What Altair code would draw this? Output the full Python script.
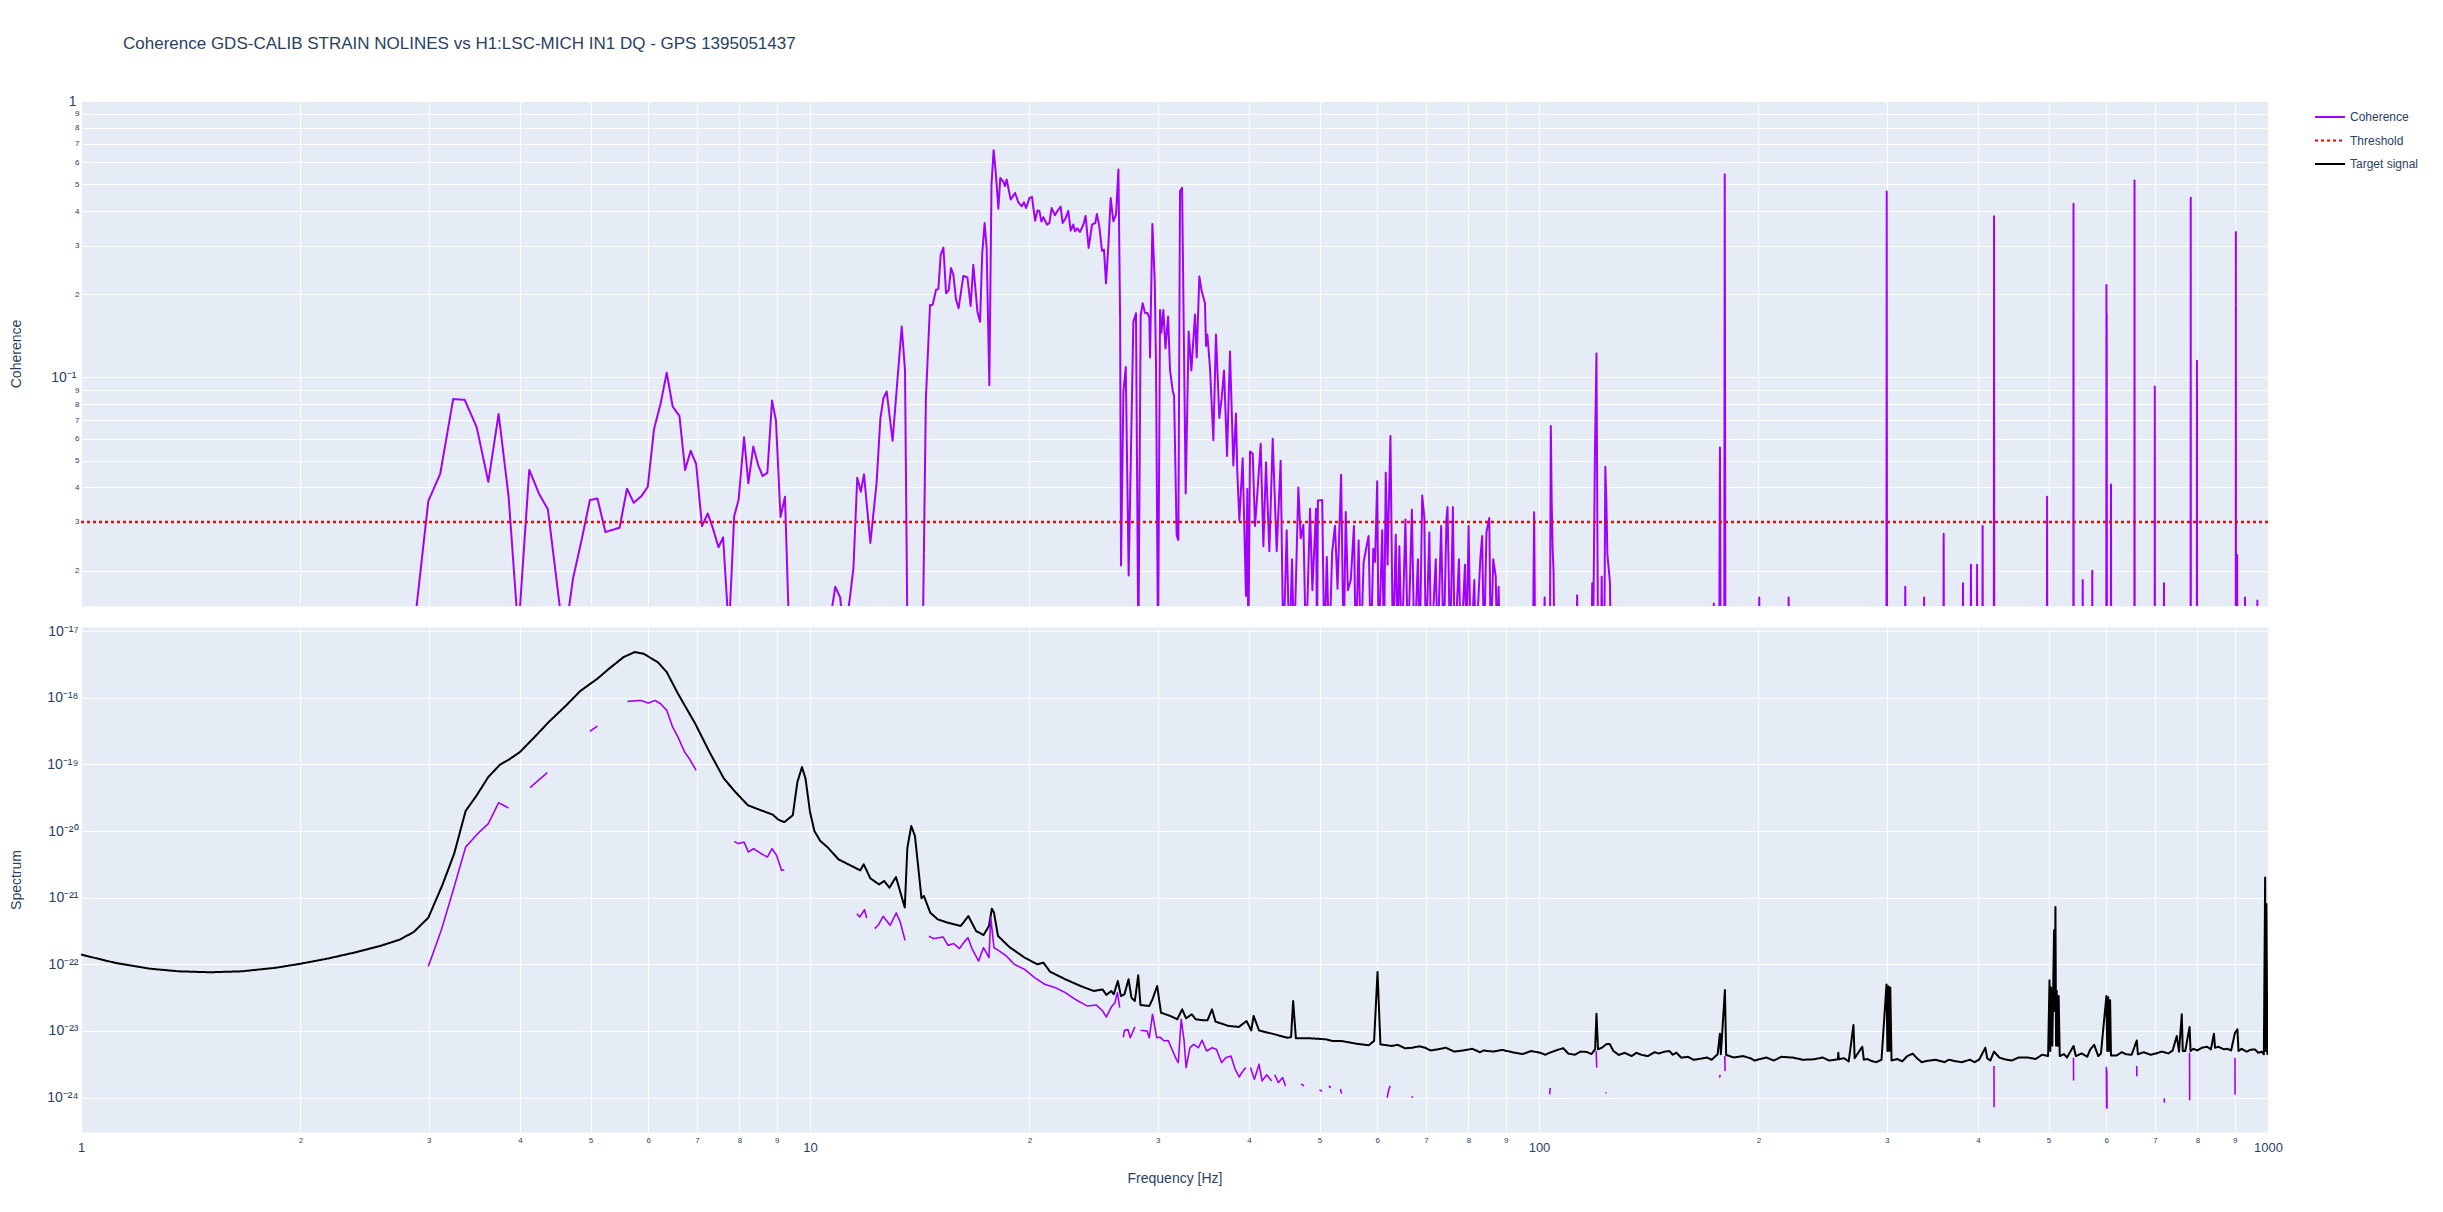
import json
import altair as alt
import pandas as pd

FONT = "Liberation Sans"
INK = "#2a3f5f"
PANEL_BG = "#E5ECF6"

TITLE = "Coherence GDS-CALIB STRAIN NOLINES vs H1:LSC-MICH IN1 DQ - GPS 1395051437"
SERIES = ["Coherence", "Threshold", "Target signal"]
SERIES_COLORS = ["#a100ff", "#ff0000", "#000000"]
SERIES_DASHES = [[1, 0], [3, 3], [1, 0]]

X_TICKS = [1, 2, 3, 4, 5, 6, 7, 8, 9, 10, 20, 30, 40, 50, 60, 70, 80, 90,
           100, 200, 300, 400, 500, 600, 700, 800, 900, 1000]
X_TICK_LABELS = ["1", "2", "3", "4", "5", "6", "7", "8", "9",
                 "10", "2", "3", "4", "5", "6", "7", "8", "9",
                 "100", "2", "3", "4", "5", "6", "7", "8", "9", "1000"]
X_MAJOR = [1, 10, 100, 1000]

COH_TICKS = [0.02, 0.03, 0.04, 0.05, 0.06, 0.07, 0.08, 0.09, 0.1,
             0.2, 0.3, 0.4, 0.5, 0.6, 0.7, 0.8, 0.9, 1]
COH_TICK_LABELS = ["2", "3", "4", "5", "6", "7", "8", "9", "10⁻¹",
                   "2", "3", "4", "5", "6", "7", "8", "9", "1"]
COH_MAJOR = [0.1, 1]

SPEC_TICKS = [1e-24, 1e-23, 1e-22, 1e-21, 1e-20, 1e-19, 1e-18, 1e-17]
SPEC_TICK_LABELS = ["10⁻²⁴", "10⁻²³", "10⁻²²", "10⁻²¹", "10⁻²⁰", "10⁻¹⁹", "10⁻¹⁸", "10⁻¹⁷"]

X_DOMAIN = [1, 1000]
COH_DOMAIN = [0.0149, 1]
SPEC_DOMAIN = [3.05e-25, 1.15e-17]

THR_FREQ = [1, 1000]
THR_VAL = [0.03, 0.03]

coh_freq = [
    1.0, 1.5, 2.0, 2.5, 2.85, 2.995, 3.11, 3.24, 3.36, 3.49,
    3.62, 3.74, 3.86, 3.98, 4.12, 4.25, 4.37, 4.6, 4.73, 4.86,
    4.99, 5.11, 5.24, 5.48, 5.61, 5.73, 5.87, 5.99, 6.11, 6.24,
    6.36, 6.48, 6.62, 6.74, 6.86, 6.98, 7.11, 7.24, 7.36, 7.49,
    7.6, 7.74, 7.87, 7.98, 8.12, 8.23, 8.36, 8.49, 8.61, 8.74,
    8.87, 8.98, 9.11, 9.24, 9.37, 10.0, 10.6, 10.83, 11.0, 11.15,
    11.47, 11.61, 11.74, 11.86, 12.1, 12.34, 12.49, 12.61, 12.74, 12.98,
    13.36, 13.5, 13.61, 14.0, 14.27, 14.42, 14.61, 14.73, 14.89, 15.0,
    15.11, 15.24, 15.37, 15.5, 15.61, 15.73, 15.86, 15.99, 16.23, 16.44,
    16.61, 16.75, 16.97, 17.11, 17.23, 17.36, 17.47, 17.62, 17.74, 17.86,
    17.99, 18.13, 18.24, 18.42, 18.51, 18.61, 18.85, 19.11, 19.31, 19.52,
    19.66, 19.79, 20.0, 20.16, 20.36, 20.51, 20.64, 20.77, 20.9, 21.14,
    21.3, 21.45, 21.68, 21.84, 22.07, 22.21, 22.4, 22.61, 22.78, 22.97,
    23.09, 23.26, 23.46, 23.71, 23.88, 24.11, 24.37, 24.62, 24.75, 24.94,
    25.15, 25.31, 25.47, 25.66, 25.85, 26.07, 26.29, 26.49, 26.63, 26.71,
    26.91, 27.11, 27.36, 27.77, 28.0, 28.21, 28.42, 28.6, 28.81, 29.03,
    29.21, 29.27, 29.49, 29.71, 29.83, 30.02, 30.21, 30.34, 30.53, 30.73,
    30.99, 31.18, 31.45, 31.58, 31.84, 32.01, 32.18, 32.39, 32.76, 33.07,
    33.35, 33.74, 33.92, 34.2, 34.46, 34.82, 34.93, 35.08, 35.37, 35.75,
    36.05, 36.43, 36.7, 36.98, 37.33, 37.68, 38.08, 38.4, 38.56, 38.81,
    39.22, 39.63, 39.8, 39.93, 40.14, 40.48, 40.78, 41.08, 41.52, 41.87,
    42.22, 42.67, 43.12, 43.67, 44.22, 44.6, 45.07, 45.45, 45.84, 46.13,
    46.76, 47.11, 47.51, 47.91, 48.52, 48.88, 49.45, 49.6, 49.74, 50.42,
    50.76, 51.16, 51.56, 52.03, 52.5, 52.92, 53.52, 53.95, 54.31, 54.68,
    55.18, 55.74, 56.06, 56.57, 56.95, 57.47, 57.92, 58.38, 58.78, 59.25,
    59.58, 59.99, 60.26, 60.94, 61.29, 61.63, 61.98, 62.19, 62.55, 63.04,
    63.61, 63.97, 64.33, 64.84, 65.58, 66.1, 66.93, 67.46, 68.22, 68.61,
    69.15, 69.62, 69.94, 70.73, 71.13, 72.18, 72.59, 73.41, 73.99, 74.66,
    74.91, 75.51, 76.19, 76.62, 77.66, 78.1, 79.16, 79.52, 80.06, 80.61,
    81.52, 81.89, 83.1, 83.57, 84.04, 84.71, 85.47, 85.86, 86.54, 87.23,
    87.62, 88.02, 88.42, 93.0, 98.1, 98.47, 98.8, 101.5, 101.8, 102.1,
    103.5, 103.8, 104.1, 104.4, 104.7, 105.0, 112.5, 112.8, 113.1, 118.0,
    118.3, 118.6, 119.3, 119.9, 120.5, 121.6, 121.9, 122.2, 122.9, 123.3,
    123.7, 124.1, 125.1, 125.5, 150.0, 173.4, 173.7, 174.0, 176.7, 177.1,
    177.5, 179.5, 179.8, 180.2, 200.2, 200.5, 200.8, 219.7, 220.0, 220.3,
    299.6, 299.9, 300.2, 317.7, 318.0, 318.3, 337.2, 337.5, 337.8, 358.7,
    359.0, 359.3, 381.3, 381.6, 381.9, 391.0, 391.3, 391.6, 398.7, 399.0,
    399.3, 405.7, 406.0, 406.3, 420.6, 420.9, 421.2, 497.4, 497.7, 498.0,
    540.7, 541.0, 541.3, 556.7, 557.0, 557.3, 573.7, 574.0, 574.3, 600.0,
    600.3, 600.55, 600.8, 601.3, 608.7, 609.0, 609.3, 655.7, 656.0, 656.3, 699.1,
    699.4, 699.7, 719.7, 720.0, 720.3, 783.1, 783.4, 783.7, 798.7, 799.0,
    799.3, 903.2, 903.5, 903.8, 907.0, 907.3, 907.6, 929.7, 930.0, 930.3,
    966.7, 967.0, 967.3, 1000.0,
]
coh_val = [
    0.004, 0.003, 0.004, 0.006, 0.011, 0.0357, 0.0448, 0.0835, 0.083, 0.066,
    0.0419, 0.0738, 0.037, 0.012, 0.0463, 0.0379, 0.0333, 0.011, 0.0187, 0.0258,
    0.036, 0.0365, 0.0276, 0.0286, 0.0396, 0.0352, 0.0372, 0.0402, 0.065, 0.0807,
    0.104, 0.0785, 0.0726, 0.0463, 0.0543, 0.0486, 0.029, 0.0322, 0.0284, 0.0243,
    0.0264, 0.012, 0.0315, 0.036, 0.0608, 0.0414, 0.0562, 0.0482, 0.044, 0.0452,
    0.0825, 0.0698, 0.0313, 0.037, 0.011, 0.008, 0.012, 0.0175, 0.016, 0.011,
    0.0204, 0.0434, 0.0386, 0.0446, 0.0252, 0.0414, 0.0712, 0.0841, 0.089, 0.059,
    0.1527, 0.106, 0.01, 0.006, 0.01, 0.0839, 0.183, 0.183, 0.2075, 0.209,
    0.278, 0.295, 0.2016, 0.207, 0.2486, 0.235, 0.191, 0.178, 0.233, 0.23,
    0.1815, 0.2556, 0.173, 0.159, 0.282, 0.362, 0.294, 0.0938, 0.4988, 0.664,
    0.542, 0.408, 0.527, 0.51, 0.492, 0.52, 0.44, 0.465, 0.43, 0.416,
    0.43, 0.41, 0.446, 0.45, 0.369, 0.402, 0.40, 0.366, 0.38, 0.357,
    0.362, 0.41, 0.386, 0.40, 0.415, 0.362, 0.375, 0.40, 0.34, 0.357,
    0.338, 0.346, 0.336, 0.357, 0.384, 0.294, 0.357, 0.362, 0.39, 0.351,
    0.287, 0.29, 0.219, 0.30, 0.446, 0.367, 0.389, 0.565, 0.1637, 0.0209,
    0.0887, 0.109, 0.0192, 0.159, 0.1707, 0.01, 0.168, 0.1855, 0.171, 0.171,
    0.164, 0.118, 0.359, 0.222, 0.11, 0.01, 0.1755, 0.145, 0.1755, 0.1274,
    0.166, 0.106, 0.0893, 0.086, 0.0268, 0.0258, 0.4716, 0.485, 0.038, 0.1465,
    0.106, 0.169, 0.118, 0.232, 0.205, 0.1855, 0.13, 0.143, 0.109, 0.0593,
    0.143, 0.0714, 0.0838, 0.106, 0.052, 0.124, 0.048, 0.074, 0.0455, 0.0304,
    0.051, 0.0162, 0.0395, 0.01, 0.054, 0.053, 0.029, 0.038, 0.0576, 0.0245,
    0.0493, 0.0235, 0.06, 0.0235, 0.05, 0.01, 0.028, 0.01, 0.022, 0.01,
    0.040, 0.0262, 0.0293, 0.01, 0.0335, 0.017, 0.0335, 0.01, 0.0359, 0.036,
    0.01, 0.0224, 0.01, 0.0233, 0.0291, 0.0172, 0.0445, 0.01, 0.0326, 0.017,
    0.0185, 0.029, 0.01, 0.0257, 0.01, 0.0215, 0.024, 0.0267, 0.01, 0.024,
    0.0215, 0.0421, 0.01, 0.028, 0.01, 0.0452, 0.021, 0.032, 0.0614, 0.01,
    0.027, 0.01, 0.0245, 0.01, 0.0306, 0.01, 0.0332, 0.01, 0.022, 0.01,
    0.0374, 0.031, 0.01, 0.0275, 0.01, 0.022, 0.01, 0.029, 0.01, 0.031,
    0.034, 0.01, 0.034, 0.01, 0.022, 0.01, 0.021, 0.01, 0.029, 0.01,
    0.0185, 0.01, 0.0223, 0.0267, 0.01, 0.0276, 0.031, 0.01, 0.022, 0.019,
    0.01, 0.0175, 0.01, 0.006, 0.01, 0.0325, 0.01, 0.01, 0.016, 0.01,
    0.01, 0.0668, 0.035, 0.024, 0.02, 0.01, 0.01, 0.0163, 0.01, 0.01,
    0.018, 0.01, 0.0508, 0.122, 0.01, 0.01, 0.019, 0.01, 0.01, 0.0475,
    0.036, 0.023, 0.0182, 0.01, 0.006, 0.01, 0.0152, 0.01, 0.01, 0.0558,
    0.01, 0.01, 0.5435, 0.01, 0.01, 0.016, 0.01, 0.01, 0.016, 0.01,
    0.01, 0.471, 0.01, 0.01, 0.0175, 0.01, 0.01, 0.016, 0.01, 0.01,
    0.0272, 0.01, 0.01, 0.018, 0.01, 0.01, 0.021, 0.01, 0.01, 0.021,
    0.01, 0.01, 0.029, 0.01, 0.01, 0.383, 0.01, 0.01, 0.037, 0.01,
    0.01, 0.425, 0.01, 0.01, 0.0185, 0.01, 0.01, 0.02, 0.01, 0.01,
    0.216, 0.01, 0.17, 0.01, 0.01, 0.041, 0.01, 0.01, 0.516, 0.01, 0.01,
    0.0927, 0.01, 0.01, 0.018, 0.01, 0.01, 0.447, 0.01, 0.01, 0.115,
    0.01, 0.01, 0.336, 0.01, 0.01, 0.0228, 0.01, 0.01, 0.016, 0.01,
    0.01, 0.0156, 0.01, 0.006,
]

spec_freq = [
    1.0, 1.115, 1.243, 1.361, 1.504, 1.662, 1.853, 2.0, 2.18, 2.39,
    2.57, 2.735, 2.86, 2.995, 3.13, 3.25, 3.37, 3.49, 3.62, 3.76,
    3.86, 4.0, 4.19, 4.38, 4.63, 4.84, 5.11, 5.3, 5.55, 5.75,
    5.91, 6.18, 6.36, 6.59, 6.96, 7.28, 7.62, 7.9, 8.22, 8.57,
    8.89, 9.05, 9.22, 9.47, 9.61, 9.75, 9.86, 10.0, 10.14, 10.33,
    10.59, 10.94, 11.29, 11.72, 11.85, 12.1, 12.44, 12.64, 12.85, 13.12,
    13.49, 13.6, 13.77, 13.93, 14.08, 14.22, 14.33, 14.62, 14.97, 15.46,
    16.1, 16.49, 16.9, 17.3, 17.6, 17.76, 17.88, 18.11, 18.77, 19.7,
    20.5, 20.9, 21.34, 22.4, 23.5, 24.5, 25.2, 25.5, 25.9, 26.1,
    26.44, 26.7, 27.0, 27.35, 27.6, 27.9, 28.2, 28.4, 29.2, 29.5,
    29.94, 30.3, 31.2, 31.9, 32.4, 32.8, 33.4, 33.8, 34.6, 35.1,
    35.6, 36.0, 37.5, 38.75, 39.7, 40.3, 40.6, 41.3, 43.4, 45.2,
    45.7, 46.0, 46.4, 48.6, 50.9, 52.1, 53.5, 56.1, 58.4, 59.4,
    60.05, 60.6, 62.8, 67.0, 69.8, 72.6, 78.7, 83.9, 86.5, 92.5,
    100.3, 103.5, 106.6, 109.7, 116.3, 119.4, 119.9, 120.5, 123.6, 128.7,
    138.4, 148.8, 154.3, 156.7, 167.1, 175.8, 177.1, 177.6, 179.9, 180.6,
    190.4, 200.3, 223.3, 238.4, 257.0, 257.4, 257.8, 270.0, 271.0, 277.6,
    279.0, 285.8, 299.7, 300.6, 301.5, 302.4, 303.3, 304.5, 325.6, 340.1,
    371.0, 401.8, 409.5, 412.0, 420.9, 435.1, 467.9, 499.3, 501.5, 502.8,
    504.0, 506.0, 508.8, 510.0, 511.0, 512.0, 513.0, 514.5, 516.2, 518.0,
    541.1, 545.0, 577.4, 585.0, 600.2, 601.9, 603.7, 605.5, 607.3, 609.0,
    639.0, 660.7, 663.0, 702.0, 749.6, 755.0, 761.6, 764.0, 780.6, 783.0,
    811.8, 843.0, 846.0, 870.0, 901.0, 908.0, 911.0, 959.0, 987.0, 991.0,
    993.0, 995.0, 998.0, 1000.0,
]
spec_val = [
    1.4e-22, 1.05e-22, 8.6e-23, 7.85e-23, 7.6e-23, 7.85e-23, 8.9e-23, 1.02e-22, 1.22e-22, 1.53e-22,
    1.88e-22, 2.34e-22, 3.05e-22, 5.0e-22, 1.53e-21, 4.57e-21, 2.0e-20, 3.43e-20, 6.46e-20, 1.0e-19,
    1.17e-19, 1.53e-19, 2.57e-19, 4.3e-19, 7.67e-19, 1.26e-18, 1.93e-18, 2.72e-18, 4.07e-18, 4.84e-18,
    4.57e-18, 3.43e-18, 2.43e-18, 1.15e-18, 4.07e-19, 1.53e-19, 6.1e-20, 3.85e-20, 2.43e-20, 2.04e-20,
    1.76e-20, 1.48e-20, 1.36e-20, 1.72e-20, 5.43e-20, 9.1e-20, 6.1e-20, 1.93e-20, 1.0e-20, 7.1e-21,
    5.6e-21, 3.76e-21, 3.16e-21, 2.57e-21, 3.16e-21, 1.95e-21, 1.58e-21, 1.78e-21, 1.41e-21, 2.04e-21,
    7.1e-22, 5.6e-21, 1.19e-20, 8.4e-21, 2.8e-21, 9.8e-22, 1.06e-21, 5.96e-22, 4.73e-22, 4.2e-22,
    3.76e-22, 5.3e-22, 3.16e-22, 2.75e-22, 3.76e-22, 6.84e-22, 5.96e-22, 2.66e-22, 1.82e-22, 1.26e-22,
    1.0e-22, 1.06e-22, 7.76e-23, 5.96e-23, 4.73e-23, 3.98e-23, 4.2e-23, 3.47e-23, 3.98e-23, 3.55e-23,
    5.6e-23, 3.35e-23, 3.55e-23, 5.96e-23, 3.16e-23, 2.82e-23, 6.84e-23, 2.45e-23, 2.37e-23, 2.99e-23,
    4.73e-23, 1.88e-23, 1.68e-23, 1.5e-23, 2.11e-23, 1.55e-23, 1.78e-23, 1.5e-23, 1.45e-23, 1.45e-23,
    2.11e-23, 1.38e-23, 1.19e-23, 1.15e-23, 1.41e-23, 1.02e-23, 1.68e-23, 1.02e-23, 8.9e-24, 7.9e-24,
    8.1e-24, 2.82e-23, 7.8e-24, 7.76e-24, 7.5e-24, 7.1e-24, 7.1e-24, 6.46e-24, 6.1e-24, 7.1e-24,
    7.67e-23, 6.3e-24, 5.96e-24, 5.6e-24, 5.6e-24, 5.3e-24, 5.1e-24, 5.1e-24, 4.9e-24, 4.73e-24,
    4.73e-24, 4.73e-24, 5.3e-24, 4.57e-24, 4.84e-24, 5.3e-24, 1.82e-23, 5.3e-24, 6.3e-24, 4.37e-24,
    4.37e-24, 4.9e-24, 4.73e-24, 3.98e-24, 3.85e-24, 4.47e-24, 9.1e-24, 4.47e-24, 4.12e-23, 4.37e-24,
    4.2e-24, 3.76e-24, 3.98e-24, 3.76e-24, 3.76e-24, 4.73e-24, 3.76e-24, 1.23e-23, 3.9e-24, 5.8e-24,
    3.7e-24, 3.55e-24, 5.0e-23, 5.0e-24, 4.7e-23, 5.0e-24, 4.5e-23, 3.6e-24, 4.57e-24, 3.55e-24,
    3.55e-24, 3.76e-24, 5.6e-24, 3.9e-24, 4.9e-24, 3.76e-24, 4.0e-24, 4.2e-24, 5.75e-23, 5.0e-24,
    4.5e-23, 6.0e-24, 3.24e-22, 2.0e-23, 7.24e-22, 6.0e-24, 4.0e-23, 6.0e-24, 3.35e-23, 4.2e-24,
    5.96e-24, 4.2e-24, 6.2e-24, 4.2e-24, 3.35e-23, 5.0e-24, 3.2e-23, 5.0e-24, 2.9e-23, 4.3e-24,
    4.47e-24, 7.2e-24, 4.47e-24, 4.6e-24, 8.4e-24, 4.9e-24, 1.78e-23, 5.0e-24, 1.15e-23, 5.0e-24,
    5.6e-24, 9.1e-24, 5.6e-24, 5.3e-24, 9.4e-24, 1.06e-23, 5.0e-24, 5.3e-24, 4.47e-24, 2.0e-21,
    5.0e-24, 8.0e-22, 4.5e-24, 4.5e-24,
]

# finer wiggles of the high-frequency floor of the target spectrum
spec_floor_freq = [
    64.0, 65.5, 68.5, 71.0, 74.5, 76.5, 81.0, 83.0, 89.0, 95.0, 97.5,
    102.0, 105.0, 108.0, 112.0, 114.0, 118.0, 122.0, 125.0, 126.5, 131.0,
    134.0, 136.0, 141.0, 144.0, 146.0, 151.0, 152.5, 160.0, 163.0, 170.0,
    172.5, 185.0, 195.0, 197.5, 205.0, 210.0, 215.0, 230.0, 245.0, 250.0,
    262.0, 266.0, 282.0, 290.0, 295.0, 310.0, 315.0, 320.0, 330.0, 335.0,
    350.0, 360.0, 365.0, 380.0, 390.0, 396.0, 416.0, 428.0, 445.0, 455.0,
    480.0, 490.0, 525.0, 530.0, 555.0, 565.0, 570.0, 590.0, 620.0, 630.0,
    650.0, 675.0, 690.0, 715.0, 730.0, 740.0, 770.0, 790.0, 800.0, 825.0,
    835.0, 855.0, 880.0, 890.0, 920.0, 935.0, 945.0, 970.0, 980.0,
]
spec_floor_val = [
    6.2e-24, 5.5e-24, 5.9e-24, 5.1e-24, 5.6e-24, 4.9e-24, 5.4e-24, 4.8e-24, 5.2e-24, 4.5e-24, 5.0e-24,
    4.4e-24, 5.0e-24, 5.5e-24, 4.4e-24, 4.9e-24, 4.5e-24, 5.6e-24, 6.4e-24, 5.0e-24, 4.7e-24,
    4.2e-24, 4.7e-24, 4.2e-24, 4.8e-24, 4.6e-24, 5.0e-24, 4.4e-24, 4.1e-24, 3.7e-24, 4.0e-24,
    3.7e-24, 4.0e-24, 3.9e-24, 3.6e-24, 4.0e-24, 3.6e-24, 4.1e-24, 3.7e-24, 4.0e-24, 3.6e-24,
    3.9e-24, 3.5e-24, 3.8e-24, 3.4e-24, 3.7e-24, 3.8e-24, 3.5e-24, 4.2e-24, 3.9e-24, 3.4e-24,
    3.7e-24, 3.4e-24, 3.7e-24, 3.4e-24, 3.7e-24, 3.4e-24, 3.6e-24, 4.0e-24, 3.6e-24, 4.0e-24,
    3.8e-24, 4.4e-24, 4.5e-24, 4.0e-24, 4.6e-24, 4.1e-24, 5.2e-24, 4.6e-24, 4.3e-24, 4.8e-24,
    4.4e-24, 4.8e-24, 4.4e-24, 4.9e-24, 4.6e-24, 5.1e-24, 5.0e-24, 5.4e-24, 5.1e-24, 5.8e-24,
    5.3e-24, 5.8e-24, 5.4e-24, 5.1e-24, 5.4e-24, 4.9e-24, 5.2e-24, 4.7e-24, 4.9e-24,
]

proj_seg = (
    [1] * 8 + [2] * 2 + [3] * 2 + [4] * 11 + [5] * 11 + [6] * 4 + [7] * 7
    + [8] * 32 + [9] * 5 + [10] * 27 + [11] * 6 + [12] * 4
    + [13] * 2 + [14] * 2 + [15] * 2 + [16] * 2 + [17] * 3 + [18] * 2
    + [19] * 2 + [20] * 2 + [21] * 2 + [22] * 2 + [23] * 2 + [24] * 2
    + [25] * 2 + [26] * 4 + [27] * 2 + [28] * 2 + [29] * 2 + [30] * 2
)
proj_freq = [
    2.995, 3.12, 3.24, 3.37, 3.5, 3.62, 3.74, 3.86,
    4.13, 4.36,
    4.99, 5.11,
    5.62, 5.86, 6.0, 6.13, 6.24, 6.36, 6.48, 6.59, 6.73, 6.83, 6.98,
    7.87, 7.97, 8.12, 8.23, 8.37, 8.57, 8.74, 8.87, 9.0, 9.14, 9.22,
    11.6, 11.7, 11.88, 11.96,
    12.27, 12.42, 12.6, 12.88, 13.13, 13.3, 13.5,
    14.56, 14.78, 15.04, 15.23, 15.46, 15.75, 16.03, 16.27, 16.47, 16.68,
    17.03, 17.3, 17.6, 17.7, 17.88, 18.19, 18.6, 19.06, 19.7, 20.33,
    21.0, 21.7, 22.4, 23.1, 24.0, 24.7, 25.2, 25.5, 25.9, 26.2,
    26.4, 26.6,
    26.9, 27.0, 27.3, 27.5, 27.9,
    28.4, 29.0, 29.2, 29.5, 29.9, 30.2, 30.6, 31.0, 31.8, 32.0,
    32.3, 32.6, 32.8, 33.2, 33.6, 34.1, 34.5, 35.0, 35.6, 36.1,
    36.7, 37.2, 37.8, 38.3, 38.8, 39.1, 39.6,
    40.2, 40.7, 41.3, 41.7, 42.3, 43.0,
    43.4, 43.9, 44.5, 44.9,
    47.2, 47.6,
    50.0, 50.4,
    51.5, 51.8,
    53.4, 53.6,
    61.9, 62.2, 62.5,
    66.9, 67.1,
    103.4, 103.6,
    119.8, 120.0,
    123.5, 123.7,
    176.9, 177.2,
    179.8, 180.0,
    420.8, 421.0,
    540.9, 541.2,
    600.2, 600.6, 601.0, 601.4,
    660.6, 660.9,
    720.6, 720.9,
    780.5, 780.8,
    900.9, 901.2,
]
proj_val = [
    9.3e-23, 3.24e-22, 1.29e-21, 5.75e-21, 9.1e-21, 1.29e-20, 2.66e-20, 2.21e-20,
    4.47e-20, 7.5e-20,
    3.13e-19, 3.76e-19,
    8.8e-19, 9.1e-19, 8.3e-19, 9.1e-19, 8.1e-19, 6.46e-19, 3.63e-19, 2.57e-19, 1.53e-19, 1.22e-19, 8.1e-20,
    7.0e-21, 6.46e-21, 6.84e-21, 4.84e-21, 5.43e-21, 4.57e-21, 4.07e-21, 5.43e-21, 4.3e-21, 2.57e-21, 2.63e-21,
    5.75e-22, 5.13e-22, 6.6e-22, 4.95e-22,
    3.43e-22, 3.94e-22, 5.25e-22, 3.85e-22, 5.9e-22, 4.3e-22, 2.29e-22,
    2.63e-22, 2.43e-22, 2.51e-22, 2.57e-22, 1.93e-22, 2.04e-22, 1.72e-22, 2.16e-22, 2.51e-22, 1.72e-22,
    1.12e-22, 1.78e-22, 1.26e-22, 5.0e-22, 1.78e-22, 1.58e-22, 1.33e-22, 1.0e-22, 8.4e-23, 6.3e-23,
    5.0e-23, 4.47e-23, 3.76e-23, 2.99e-23, 2.37e-23, 2.45e-23, 2.0e-23, 1.62e-23, 2.29e-23, 2.66e-23,
    3.76e-23, 2.24e-23,
    8.1e-24, 1.02e-23, 1.05e-23, 7.9e-24, 1.15e-23,
    1.02e-23, 1.0e-23, 7.9e-24, 1.78e-23, 7.9e-24, 8.1e-24, 7.1e-24, 7.2e-24, 3.76e-24, 3.35e-24,
    1.5e-23, 7.1e-24, 2.82e-24, 5.6e-24, 6.3e-24, 5.6e-24, 7.24e-24, 5.0e-24, 5.6e-24, 5.3e-24,
    3.35e-24, 3.98e-24, 4.2e-24, 2.66e-24, 2.04e-24, 2.37e-24, 2.82e-24,
    2.82e-24, 1.88e-24, 3.16e-24, 1.78e-24, 2.2e-24, 1.78e-24,
    2.2e-24, 1.68e-24, 2.0e-24, 1.5e-24,
    1.6e-24, 1.5e-24,
    1.3e-24, 1.25e-24,
    1.5e-24, 1.4e-24,
    1.35e-24, 1.15e-24,
    1.0e-24, 1.3e-24, 1.5e-24,
    1.0e-24, 1.05e-24,
    1.12e-24, 1.4e-24,
    5.0e-24, 2.82e-24,
    1.16e-24, 1.2e-24,
    2.0e-24, 2.2e-24,
    4.2e-24, 2.5e-24,
    2.98e-24, 7.2e-25,
    3.98e-24, 1.8e-24,
    2.9e-24, 7.0e-25, 2.5e-24, 6.8e-25,
    2.98e-24, 2.1e-24,
    9.8e-25, 8.4e-25,
    4.7e-24, 9.1e-25,
    3.98e-24, 1.1e-24,
]

assert len(coh_freq) == len(coh_val)
assert len(spec_freq) == len(spec_val)
assert len(spec_floor_freq) == len(spec_floor_val)
assert len(proj_freq) == len(proj_val) == len(proj_seg)

W, H = 2187, 505

coh_df = pd.DataFrame({"f": coh_freq, "v": coh_val, "series": "Coherence"})
thr_df = pd.DataFrame({"f": THR_FREQ, "v": THR_VAL, "series": "Threshold"})
spec_df = pd.DataFrame({"f": spec_freq + spec_floor_freq,
                        "v": spec_val + spec_floor_val,
                        "series": "Target signal"}).sort_values("f")
proj_df = pd.DataFrame({"f": proj_freq, "v": proj_val, "seg": proj_seg, "series": "Coherence"})


def lookup_expr(values, labels):
    return "{}[indexof({}, datum.value)]".format(
        json.dumps(labels, ensure_ascii=False), json.dumps(values))


def is_major(values):
    return "indexof({}, datum.value) >= 0".format(json.dumps(values))


x_scale = alt.Scale(type="log", domain=X_DOMAIN, nice=False)
coh_scale = alt.Scale(type="log", domain=COH_DOMAIN, nice=False)
spec_scale = alt.Scale(type="log", domain=SPEC_DOMAIN, nice=False)

x_axis_top = alt.Axis(values=X_TICKS, labels=False, ticks=False, domain=False,
                      grid=True, title=None)
x_axis_bottom = alt.Axis(
    values=X_TICKS,
    labelExpr=lookup_expr(X_TICKS, X_TICK_LABELS),
    labelFontSize={"condition": {"test": is_major(X_MAJOR), "value": 13}, "value": 8},
    labelPadding={"condition": {"test": is_major(X_MAJOR), "value": 9}, "value": 4},
    labelFlush=False, labelOverlap=False, ticks=False, domain=False, grid=True,
    title="Frequency [Hz]", titleY=46, titleBaseline="middle",
)
coh_axis = alt.Axis(
    values=COH_TICKS,
    labelExpr=lookup_expr(COH_TICKS, COH_TICK_LABELS),
    labelFontSize={"condition": {"test": is_major(COH_MAJOR), "value": 14}, "value": 8},
    labelPadding={"condition": {"test": is_major(COH_MAJOR), "value": 5}, "value": 2},
    labelOverlap=False, ticks=False, domain=False, grid=True,
    title="Coherence", titleX=-65, titleY=H / 2, titleAngle=270,
    titleBaseline="middle", titleAlign="center",
)
spec_axis = alt.Axis(
    values=SPEC_TICKS,
    labelExpr=lookup_expr(SPEC_TICKS, SPEC_TICK_LABELS),
    labelFontSize=14, labelPadding=3,
    labelOverlap=False, ticks=False, domain=False, grid=True,
    title="Spectrum", titleX=-65, titleY=H / 2, titleAngle=270,
    titleBaseline="middle", titleAlign="center",
)

color_enc = alt.Color("series:N", scale=alt.Scale(domain=SERIES, range=SERIES_COLORS),
                      legend=alt.Legend(title=None))
dash_enc = alt.StrokeDash("series:N", scale=alt.Scale(domain=SERIES, range=SERIES_DASHES),
                          legend=alt.Legend(title=None))

coh_line = alt.Chart(coh_df).mark_line(clip=True, strokeWidth=2, strokeJoin="round").encode(
    x=alt.X("f:Q", scale=x_scale, axis=x_axis_top),
    y=alt.Y("v:Q", scale=coh_scale, axis=coh_axis),
    color=color_enc, strokeDash=dash_enc,
)
thr_line = alt.Chart(thr_df).mark_line(clip=True, strokeWidth=2.5).encode(
    x=alt.X("f:Q", scale=x_scale, axis=x_axis_top),
    y=alt.Y("v:Q", scale=coh_scale, axis=coh_axis),
    color=color_enc, strokeDash=dash_enc,
)
spec_line = alt.Chart(spec_df).mark_line(clip=True, strokeWidth=2, strokeJoin="round").encode(
    x=alt.X("f:Q", scale=x_scale, axis=x_axis_bottom),
    y=alt.Y("v:Q", scale=spec_scale, axis=spec_axis),
    color=color_enc, strokeDash=dash_enc,
)
proj_line = alt.Chart(proj_df).mark_line(clip=True, strokeWidth=1.6, strokeJoin="round").encode(
    x=alt.X("f:Q", scale=x_scale, axis=x_axis_bottom),
    y=alt.Y("v:Q", scale=spec_scale, axis=spec_axis),
    color=color_enc, strokeDash=dash_enc, detail="seg:N",
)

top = alt.layer(coh_line, thr_line).properties(width=W, height=H)
bottom = alt.layer(spec_line, proj_line).properties(width=W, height=H)

chart = (
    alt.vconcat(top, bottom, spacing=21, bounds="flush")
    .resolve_scale(color="shared", strokeDash="shared")
    .properties(
        title=alt.TitleParams(TITLE, anchor="start", frame="group", dx=42, fontSize=17,
                              font=FONT, color=INK, fontWeight="normal", offset=41),
        padding={"left": 1, "top": 27, "right": 5, "bottom": 5},
    )
    .configure_view(fill=PANEL_BG, strokeOpacity=0)
    .configure_axis(gridColor="white", gridWidth=1, labelFont=FONT, labelColor=INK,
                    titleFont=FONT, titleColor=INK, titleFontSize=14,
                    titleFontWeight="normal")
    .configure_legend(orient="right", offset=31, padding=0, symbolType="stroke",
                      symbolSize=900, symbolStrokeWidth=2, labelFont=FONT,
                      labelFontSize=12, labelColor=INK, labelOffset=4, rowPadding=1.5)
)

chart.save("out.html", embed_options={"renderer": "svg", "actions": False})
